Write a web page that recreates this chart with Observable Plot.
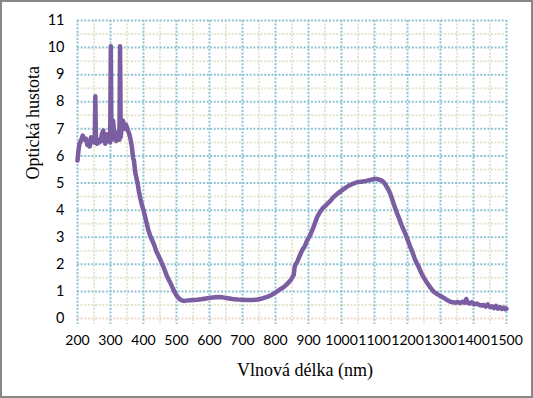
<!DOCTYPE html>
<html>
<head>
<meta charset="utf-8">
<script src="https://cdn.jsdelivr.net/npm/d3@7"></script>
<script src="https://cdn.jsdelivr.net/npm/@observablehq/plot@0.6"></script>
<style>
  html, body { margin: 0; padding: 0; background: #fff; }
  #chart svg { display: block; outline: 2px solid #878787; outline-offset: -2px; }
</style>
</head>
<body>
<div id="chart"></div>
<script>
// Wavelength (nm) and optical density
const wavelength = [
  200,203,206,210,216,221,226,230,233,237,241,245,249,252,254,256,259,262,266,270,
  274,278,281,284,287,290,293,296,299,301,303,305,308,310,312,315,317,320,324,327,
  329,331,334,338,341,344,347,350,354,357,361,365,368,371,375,378,382,386,390,395,
  401,408,415,422,431,440,450,461,470,480,492,500,507,514,522,530,540,550,563,575,
  590,605,623,640,655,670,685,700,715,730,745,760,775,785,795,805,815,825,835,845,
  851,855,858,861,866,871,876,882,888,896,906,916,926,936,944,952,960,967,975,987,
  1000,1015,1030,1047,1060,1075,1090,1100,1108,1115,1121,1128,1135,1141,1148,1155,1162,1169,1176,1182,
  1189,1196,1202,1209,1216,1222,1229,1236,1242,1249,1256,1263,1270,1280,1290,1300,1310,1320,1330,1338,
  1345,1352,1360,1367,1374,1378,1382,1388,1395,1402,1410,1418,1425,1431,1437,1443,1450,1456,1462,1468,
  1474,1480,1486,1492,1497,1500
];
const density = [
  5.83,6.2,6.45,6.55,6.75,6.6,6.63,6.4,6.5,6.35,6.69,6.5,6.57,6.5,8.2,6.55,6.45,6.6,6.5,6.55,
  6.8,6.94,6.6,6.45,6.6,6.8,6.6,6.55,6.5,10.05,6.6,6.9,7.3,7.0,6.75,6.6,6.55,6.7,6.9,6.6,
  10.05,6.7,7.1,7.3,7.05,7.0,7.15,7.05,6.9,6.8,6.6,6.32,5.95,5.83,5.4,5.21,5.0,4.7,4.45,4.2,
  3.95,3.6,3.25,3.0,2.76,2.45,2.2,1.89,1.6,1.35,1.03,0.85,0.74,0.68,0.65,0.66,0.67,0.68,0.69,0.71,
  0.74,0.77,0.79,0.78,0.75,0.72,0.7,0.69,0.68,0.68,0.7,0.74,0.8,0.85,0.92,1.0,1.08,1.16,1.27,1.4,
  1.52,1.6,1.9,2.0,2.1,2.25,2.39,2.55,2.65,2.88,3.1,3.4,3.74,3.95,4.08,4.17,4.27,4.35,4.47,4.6,
  4.72,4.85,4.95,5.03,5.05,5.08,5.12,5.15,5.15,5.12,5.1,5.03,4.9,4.78,4.6,4.35,4.1,3.86,3.65,3.45,
  3.25,3.05,2.85,2.63,2.42,2.2,2.02,1.85,1.68,1.52,1.38,1.25,1.13,0.98,0.9,0.83,0.76,0.68,0.62,0.6,
  0.58,0.61,0.57,0.62,0.58,0.72,0.6,0.55,0.6,0.52,0.55,0.5,0.48,0.5,0.44,0.52,0.42,0.45,0.38,0.47,
  0.36,0.42,0.35,0.4,0.34,0.36
];

const xTicks = [200,300,400,500,600,700,800,900,1000,1100,1200,1300,1400,1500];
const xMinor = [250,350,450,550,650,750,850,950,1050,1150,1250,1350,1450];
const yTicks = [0,1,2,3,4,5,6,7,8,9,10,11];
const yMinor = [0.5,1.5,2.5,3.5,4.5,5.5,6.5,7.5,8.5,9.5,10.5];
const yMajorGrid = [1,2,3,4,5,6,7,8,9,10,11];
const xLabel = "Vlnová délka (nm)";
const yLabel = "Optická hustota";

const data = wavelength.map((w, i) => ({w, v: density[i]}));

const dash = "2,1.6";
const blue = "#8fc3d4";
const beige = "#e6e3cc";

const chart = Plot.plot({
  width: 533,
  height: 398,
  marginLeft: 77,
  marginRight: 27,
  marginTop: 20,
  marginBottom: 80,
  style: {fontFamily: "Lato, 'Liberation Sans', sans-serif", fontSize: "14px", color: "#000", background: "#fff"},
  x: {domain: [200, 1500]},
  y: {domain: [0, 11]},
  marks: [
    Plot.ruleY(yMinor, {stroke: beige, strokeWidth: 2, strokeDasharray: dash}),
    Plot.ruleX(xMinor, {stroke: beige, strokeWidth: 2, strokeDasharray: dash, insetBottom: -6}),
    Plot.ruleY([0], {stroke: "#f1d8c6", strokeWidth: 2, strokeDasharray: dash}),
    Plot.ruleY(yMajorGrid, {stroke: blue, strokeWidth: 2, strokeDasharray: dash}),
    Plot.ruleX(xTicks, {stroke: blue, strokeWidth: 2, strokeDasharray: dash, insetBottom: -6}),
    Plot.line(data, {x: "w", y: "v", stroke: "#7a5ea1", strokeWidth: 4.5, strokeLinejoin: "round", strokeLinecap: "round"}),
    Plot.axisX(xTicks, {tickSize: 0, tickPadding: 17, label: null, fontSize: 14, tickFormat: d => String(d)}),
    Plot.axisY(yTicks, {tickSize: 0, tickPadding: 13, label: null, fontSize: 14.5, tickFormat: d => String(d)}),
    Plot.text([xLabel], {frameAnchor: "bottom", dx: 13, dy: 57, fontFamily: "'Liberation Serif', serif", fontSize: 18, fill: "#000"}),
    Plot.text([yLabel], {frameAnchor: "left", rotate: -90, dx: -44, dy: 10, fontFamily: "'Liberation Serif', serif", fontSize: 18, fill: "#000"})
  ]
});
document.getElementById("chart").appendChild(chart);
</script>
</body>
</html>
